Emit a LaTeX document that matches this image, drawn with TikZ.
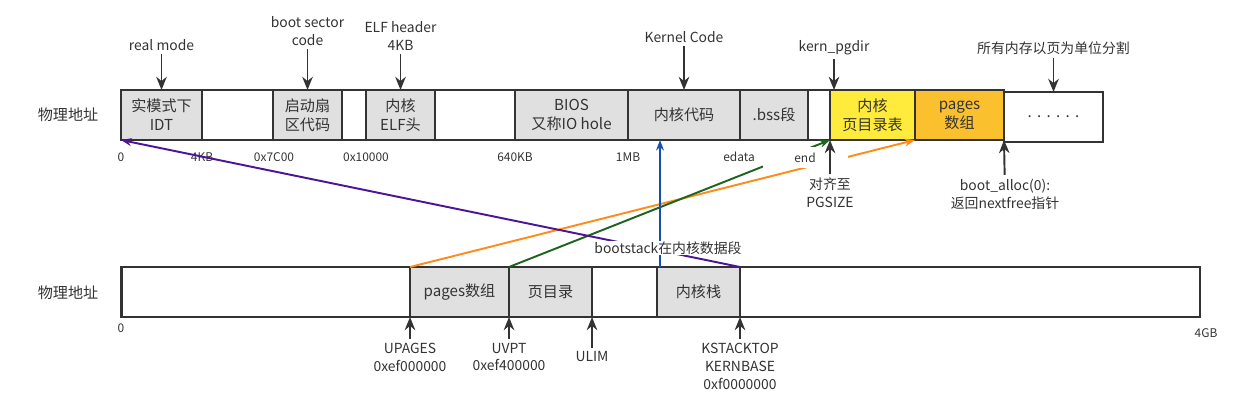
\documentclass[tikz,border=0pt]{standalone}
\usepackage{fontspec}
\setmainfont{Noto Sans CJK SC}
\usetikzlibrary{arrows.meta, calc}
\definecolor{ink}{HTML}{333333}
\definecolor{cellgray}{HTML}{E0E0E0}
\definecolor{pgdyellow}{HTML}{FFEB3B}
\definecolor{pagesorange}{HTML}{FBC02D}
\definecolor{lineorange}{HTML}{FF8C1A}
\definecolor{linegreen}{HTML}{1E641E}
\definecolor{linepurple}{HTML}{4C1496}
\definecolor{lineblue}{HTML}{1450B4}

\begin{document}
\begin{tikzpicture}[x=0.02cm, y=-0.02cm,
    cell/.style={rectangle, draw=ink, line width=1.6pt, fill=cellgray, outer sep=0pt,
                 inner sep=0pt, minimum height=1cm, align=center, text=ink,
                 font=\fontsize{8.6}{10.8}\selectfont},
    blank/.style={cell, fill=white},
    lbl/.style={align=center, text=ink, inner sep=2pt, font=\fontsize{7.9}{10.2}\selectfont},
    addr/.style={text=ink, inner sep=1pt, font=\fontsize{6.8}{8}\selectfont},
    arr/.style={-{Stealth[length=7.5pt, width=6pt]}, draw=ink, line width=1.1pt},
    link/.style={-{Stealth[length=6pt, width=4.5pt]}, line width=1.1pt}
]
\useasboundingbox (0,0) rectangle (1260,404);
% row labels
\node[cell, draw=none, fill=none] (phys1) at (68,115) {物理地址};
\node[cell, draw=none, fill=none] (phys2) at (68,293) {物理地址};
% physical memory bar, cells at pixel positions
\node[cell, minimum width=1.62cm] (idt)   at (161.5,115) {实模式下\\IDT};
\node[blank, minimum width=1.42cm] (gap1) at (237.5,115) {};
\node[cell, minimum width=1.38cm] (boot)  at (307.5,115) {启动扇\\区代码};
\node[blank, minimum width=0.48cm] (gap2) at (354,115) {};
\node[cell, minimum width=1.38cm] (elf)   at (400.5,115) {内核\\ELF头};
\node[blank, minimum width=1.60cm] (gap3) at (475,115) {};
\node[cell, minimum width=2.26cm] (bios)  at (571.5,115) {BIOS\\又称IO hole};
\node[cell, minimum width=2.24cm] (kcode) at (684,115) {内核代码};
\node[cell, minimum width=1.36cm] (bss)   at (774,115) {.bss段};
\node[blank, minimum width=0.44cm] (gap4) at (819,115) {};
\node[cell, fill=pgdyellow, minimum width=1.70cm] (kpd) at (872.5,115) {内核\\页目录表};
\node[cell, fill=pagesorange, minimum width=1.78cm] (parr) at (959.5,115) {pages\\数组};
\node[blank, minimum width=1.98cm] (rest) at (1053.5,117) {.\hspace{3pt}.\hspace{3pt}.\hspace{3pt}.\hspace{3pt}.\hspace{3pt}.};
% virtual address bar
\node[blank, minimum width=21.58cm] (vbar) at (660.5,292) {};
\node[cell, minimum width=1.98cm] (upg)  at (459.5,292) {pages数组};
\node[cell, minimum width=1.66cm] (pgd)  at (550.5,292) {页目录};
\node[blank, minimum width=1.30cm] (gap5) at (624.5,292) {};
\node[cell, minimum width=1.66cm] (kstk) at (698.5,292) {内核栈};
% addresses under the bars
\node[addr] (a0)    at (121,157) {0};
\node[addr] (a4k)   at (202,157) {4KB};
\node[addr] (a7c)   at (274,157) {0x7C00};
\node[addr] (a10k)  at (366,157) {0x10000};
\node[addr] (a640)  at (515,157) {640KB};
\node[addr] (a1m)   at (628,157) {1MB};
\node[addr] (aedata) at (739,157) {edata};
\node[addr] (b0)    at (121,328) {0};
\node[addr] (b4g)   at (1206,333) {4GB};
% mapping lines between the bars
\draw[link, draw=lineorange] (upg.north west) -- (parr.south west);
\draw[link, draw=linegreen] (pgd.north west) -- (kpd.south west);
\draw[link, draw=linepurple] (kstk.north east) -- (idt.south west);
\draw[link, draw=lineblue] ([xshift=0.06cm]kstk.north west) -- ([xshift=0.06cm]kstk.north west |- kcode.south);
% labels sitting on the lines
\node[addr, fill=white, minimum width=1.7cm, minimum height=0.42cm] (aend) at (805,157.5) {end};
\node[lbl, fill=white, inner sep=0.5pt] (bstack) at (668,248) {bootstack在内核数据段};
% labels above the bar
\node[lbl] (realmode) at (161.5,45) {real mode};
\node[lbl] (bootsec)  at (307.5,31) {boot sector\\code};
\node[lbl] (elfhdr)   at (400.5,36) {ELF header\\4KB};
\node[lbl] (kcodelbl) at (684,37) {Kernel Code};
\node[lbl] (kpdlbl)   at (834,48) {kern\_pgdir};
\node[lbl] (pagelbl)  at (1053.5,48) {所有内存以页为单位分割};
% labels below the bars
\node[lbl] (align)    at (830,193) {对齐至\\PGSIZE};
\node[lbl] (balloc)   at (1005,194) {boot\_alloc(0):\\返回nextfree指针};
\node[lbl] (upglbl)   at (410,357) {UPAGES\\0xef000000};
\node[lbl] (uvptlbl)  at (509,357) {UVPT\\0xef400000};
\node[lbl] (ulimlbl)  at (592,357) {ULIM};
\node[lbl] (ksklbl)   at (740,366) {KSTACKTOP\\KERNBASE\\0xf0000000};
% pointer arrows
\draw[arr] (realmode) -- (idt.north);
\draw[arr] (bootsec) -- (boot.north);
\draw[arr] (elfhdr) -- (elf.north);
\draw[arr] (kcodelbl) -- (kcode.north);
\draw[arr] (kpdlbl) -- (kpdlbl |- kpd.north);
\draw[arr] (pagelbl) -- (rest.north);
\draw[arr] (align) -- (kpd.south west);
\draw[arr] (balloc) -- (parr.south east);
\draw[arr] (upglbl) -- (upg.south west);
\draw[arr] (uvptlbl) -- (pgd.south west);
\draw[arr] (ulimlbl) -- (gap5.south west);
\draw[arr] (ksklbl) -- (kstk.south east);
\end{tikzpicture}
\end{document}
